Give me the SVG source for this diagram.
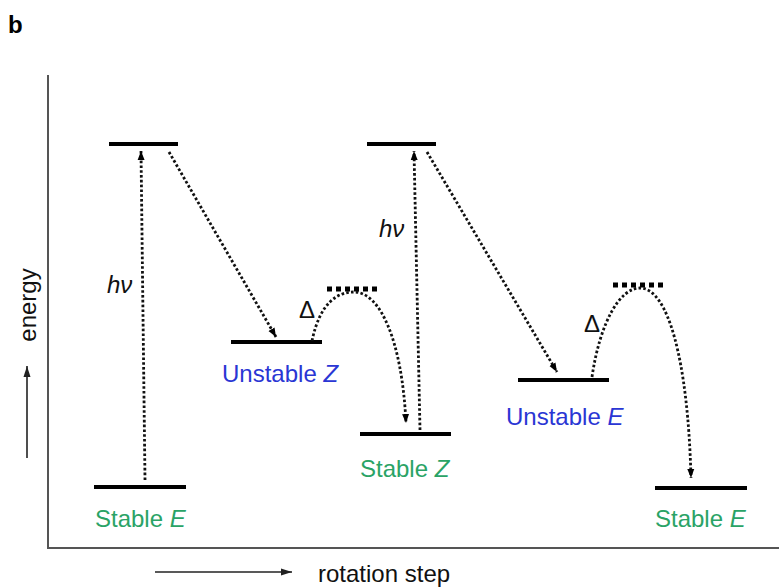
<svg xmlns="http://www.w3.org/2000/svg" width="779" height="587" viewBox="0 0 779 587">
<defs>
<marker id="ah" markerUnits="userSpaceOnUse" markerWidth="10" markerHeight="10" viewBox="0 0 10 10" refX="9" refY="5" orient="auto">
<path d="M0,1.5 L9,5 L0,8.5 Z" fill="#000"/>
</marker>
<marker id="ah2" markerUnits="userSpaceOnUse" markerWidth="12" markerHeight="10" viewBox="0 0 12 10" refX="11" refY="5" orient="auto">
<path d="M0,1.5 L11,5 L0,8.5 Z" fill="#222"/>
</marker>
</defs>
<style>
.lvl{stroke:#000;stroke-width:4;fill:none}
.ts{stroke:#000;stroke-width:5;stroke-dasharray:5 4;fill:none}
.dot{stroke:#111;stroke-width:2.8;stroke-dasharray:2.6 2.2;fill:none;marker-end:url(#ah)}
.axis{stroke:#555;stroke-width:2;fill:none}
.t{font-family:"Liberation Sans",Arial,sans-serif;font-size:24px}
.blue{fill:#2a36d4}
.green{fill:#2aa366}
.blk{fill:#111}
</style>
<rect width="779" height="587" fill="#fff"/>
<text x="8" y="33" font-family="Liberation Sans,Arial,sans-serif" font-size="24" font-weight="bold" fill="#000">b</text>
<g id="axes">
<path class="axis" d="M48,75 V548 H779"/>
<path d="M27,458 V366" stroke="#222" stroke-width="1.6" marker-end="url(#ah2)"/>
<text class="t blk" transform="translate(36,305) rotate(-90)" text-anchor="middle">energy</text>
<path d="M155,572 H292" stroke="#222" stroke-width="1.6" marker-end="url(#ah2)"/>
<text class="t blk" x="318" y="582">rotation step</text>
</g>
<g id="stableE1">
<line class="lvl" x1="94" y1="487" x2="186" y2="487"/>
<text class="t green" x="95" y="527">Stable <tspan font-style="italic">E</tspan></text>
</g>
<g id="excited1">
<line class="lvl" x1="109" y1="144" x2="178" y2="144"/>
</g>
<g id="unstableZ">
<line class="lvl" x1="231" y1="342" x2="322" y2="342"/>
<text class="t blue" x="222" y="382">Unstable <tspan font-style="italic">Z</tspan></text>
</g>
<g id="ts1">
<line class="ts" x1="327" y1="289" x2="381" y2="289"/>
</g>
<g id="stableZ">
<line class="lvl" x1="360" y1="434" x2="451" y2="434"/>
<text class="t green" x="360" y="477">Stable <tspan font-style="italic">Z</tspan></text>
</g>
<g id="excited2">
<line class="lvl" x1="367" y1="144" x2="436" y2="144"/>
</g>
<g id="unstableE">
<line class="lvl" x1="518" y1="380" x2="609" y2="380"/>
<text class="t blue" x="506" y="425">Unstable <tspan font-style="italic">E</tspan></text>
</g>
<g id="ts2">
<line class="ts" x1="613" y1="285" x2="667" y2="285"/>
</g>
<g id="stableE2">
<line class="lvl" x1="655" y1="488" x2="747" y2="488"/>
<text class="t green" x="655" y="527">Stable <tspan font-style="italic">E</tspan></text>
</g>
<g id="connectors">
<path class="dot" d="M145,480 L141,151"/>
<path class="dot" d="M169,152 L276,337"/>
<path class="dot" d="M312,341 C320,302 338,292 354,292 C380,292 402,340 406,423"/>
<path class="dot" d="M420,430 L414,151"/>
<path class="dot" d="M427,152 L557,372"/>
<path class="dot" d="M592,377 C600,322 620,288 640,288 C668,288 688,360 691,478"/>
<text class="t blk" x="107" y="293" font-size="22" font-style="italic">hν</text>
<text class="t blk" x="379" y="237" font-size="22" font-style="italic">hν</text>
<text class="t blk" x="299" y="318" font-size="18">Δ</text>
<text class="t blk" x="584" y="332" font-size="18">Δ</text>
</g>
</svg>
